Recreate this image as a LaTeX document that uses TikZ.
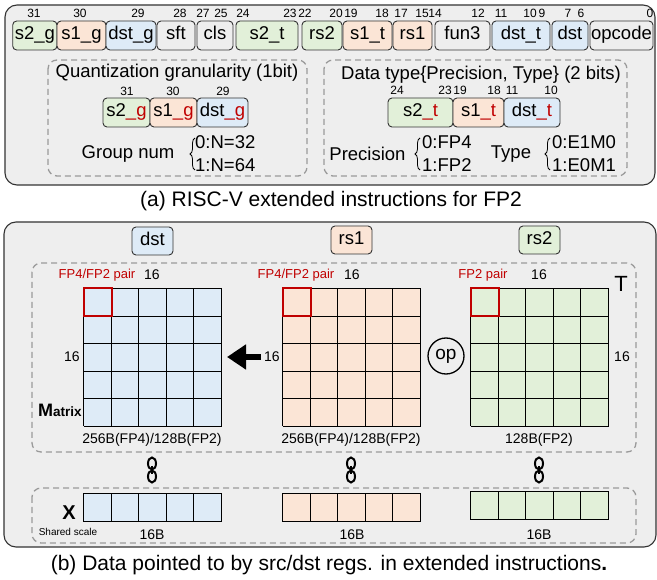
\documentclass[tikz,border=0pt]{standalone}
\usepackage{fontspec}
\setmainfont{Liberation Sans}
\usetikzlibrary{arrows.meta,decorations.pathreplacing}
\definecolor{bluef}{HTML}{DEEBF7}
\definecolor{orf}{HTML}{FBE5D6}
\definecolor{grf}{HTML}{E2F0D9}
\definecolor{panel}{HTML}{EEEEEE}
\definecolor{redt}{HTML}{C00000}
\definecolor{edge}{HTML}{333333}
\definecolor{dashc}{HTML}{9A9A9A}
\newcommand\myfs[1]{\fontsize{#1}{#1}\selectfont}
\tikzset{
  fld/.style={draw=edge, line width=0.9pt, rounded corners=4pt, inner sep=0pt,
    font=\myfs{18.5}, text height=13pt, text depth=4pt},
  bitn/.style={inner sep=0pt, font=\myfs{12}},
  txt/.style={inner sep=0pt, font=\myfs{18.5}},
  small/.style={inner sep=0pt, font=\myfs{14}},
  redlab/.style={inner sep=0pt, font=\myfs{13}, text=redt},
  panelbox/.style={draw=edge, line width=1.1pt, fill=panel, rounded corners=12pt},
  dashbox/.style={draw=dashc, line width=1.3pt, dash pattern=on 6pt off 4pt, rounded corners=9pt},
  gl/.style={draw=black, line width=1.4pt},
  redcell/.style={draw=redt, line width=2pt},
  bracestyle/.style={decorate, decoration={brace, amplitude=5pt}, line width=0.8pt},
  chainlink/.style={draw=black, line width=2pt},
  captext/.style={inner sep=0pt, font=\myfs{21}}
}
\newcommand\fieldbox[7]{%
  \node[fld, fill=#6, minimum width={(#3-#2)*1pt}, minimum height={(#5-#4)*1pt}]
    (#1) at ({(#2+#3)/2},{(#4+#5)/2}) {#7};}
% x0 y0 fill rows ; lines snapped to pixel centres
\newcommand\mgrid[4]{%
  \fill[#3] ({#1+0.5},{#2+0.5}) rectangle ({#1+138.5},{#2+0.5+round(27.5*#4)});
  \foreach \k in {0,...,5} \draw[gl] ({round(#1+\k*27.6)+0.5},{#2+0.5}) -- ({round(#1+\k*27.6)+0.5},{#2+0.5+round(27.5*#4)});
  \foreach \k in {0,...,#4} \draw[gl] ({#1+0.5},{round(#2+\k*27.5)+0.5}) -- ({#1+138.5},{round(#2+\k*27.5)+0.5});
}
\newcommand\pairmark[2]{%
  \draw[redcell] ({#1+0.5},{#2+0.5}) rectangle ({#1+28.5},{#2+28.5});}
\newcommand\chainicon[2]{%
  \draw[chainlink] (#1,{#2+6.5}) ellipse [x radius=4, y radius=6];
  \draw[chainlink] (#1,{#2+19.5}) ellipse [x radius=4, y radius=6];
  \draw[chainlink] (#1,{#2+9}) -- (#1,{#2+17});
}
\begin{document}
\begin{tikzpicture}[x=1pt,y=-1pt]
\useasboundingbox (0,0) rectangle (657,580);
\fill[white] (0,0) rectangle (657,580);

% ---------- panel (a)
\draw[panelbox] (5,5) rectangle (655,185);
\fieldbox{b1}{12.7}{57}{21}{50}{grf}{s2\_g}
\fieldbox{b2}{57}{106}{21}{50}{orf}{s1\_g}
\fieldbox{b3}{106}{156}{21}{50}{bluef}{dst\_g}
\fieldbox{b4}{157}{195}{21}{50}{panel}{sft}
\fieldbox{b5}{197}{233}{21}{50}{panel}{cls}
\fieldbox{b6}{236}{298}{21}{50}{grf}{s2\_t}
\fieldbox{b7}{302}{342}{21}{50}{grf}{rs2}
\fieldbox{b8}{343}{392}{21}{50}{orf}{s1\_t}
\fieldbox{b9}{393}{432}{21}{50}{orf}{rs1}
\fieldbox{b10}{435}{490}{21}{50}{panel}{fun3}
\fieldbox{b11}{492}{550}{21}{50}{bluef}{dst\_t}
\fieldbox{b12}{552}{588}{21}{50}{bluef}{dst}
\fieldbox{b13}{590}{653}{21}{50}{panel}{opcode}
\foreach \t/\x in {31/34,30/80,29/138,28/180,27/203,25/221,24/243,23/290,22/305,
  20/336,19/351,18/382,17/401,15/422,14/435,12/478,11/501,10/530,9/542,7/568,6/581,0/650}
  \node[bitn] (bit\t) at (\x,13) {\t};

% left inner box
\draw[dashbox] (48,60) rectangle (307,176);
\node[txt] (qtitle) at (177,73) {Quantization granularity (1bit)};
\node[bitn] (q31) at (127,91) {31};
\node[bitn] (q30) at (173,91) {30};
\node[bitn] (q29) at (223,91) {29};
\fieldbox{g1}{103}{150}{98}{127}{grf}{s2\textcolor{redt}{\_g}}
\fieldbox{g2}{150}{197}{98}{127}{orf}{s1\textcolor{redt}{\_g}}
\fieldbox{g3}{197}{248}{98}{127}{bluef}{dst\textcolor{redt}{\_g}}
\node[txt] (gnum) at (128,154) {Group num};
\coordinate (br1a) at (195,170);
\coordinate (br1b) at (195,138);
\draw[bracestyle] (br1a) -- (br1b);
\node[txt, anchor=west] (n32) at (195,142) {0:N=32};
\node[txt, anchor=west] (n64) at (195,165) {1:N=64};

% right inner box
\draw[dashbox] (324,60) rectangle (627,176);
\node[txt] (dtitle) at (481,75) {Data type\{Precision, Type\} (2 bits)};
\foreach \t/\x in {24/397,23/445,19/460,18/494,11/512,10/551}
  \node[bitn] (d\t) at (\x,90) {\t};
\fieldbox{t1}{388}{453}{98}{127}{grf}{s2\textcolor{redt}{\_t}}
\fieldbox{t2}{453}{504}{98}{127}{orf}{s1\textcolor{redt}{\_t}}
\fieldbox{t3}{504}{560}{98}{127}{bluef}{dst\textcolor{redt}{\_t}}
\node[txt] (prec) at (367.5,154) {Precision};
\coordinate (br2a) at (420,170);
\coordinate (br2b) at (420,138);
\draw[bracestyle] (br2a) -- (br2b);
\node[txt, anchor=west] (fp4) at (422,142) {0:FP4};
\node[txt, anchor=west] (fp2) at (422,165) {1:FP2};
\node[txt] (typ) at (511,154) {Type};
\coordinate (br3a) at (550,170);
\coordinate (br3b) at (550,138);
\draw[bracestyle] (br3a) -- (br3b);
\node[txt, anchor=west] (e1m0) at (552,142) {0:E1M0};
\node[txt, anchor=west] (e0m1) at (552,165) {1:E0M1};

\node[captext] (capa) at (331,201) {(a) RISC-V extended instructions for FP2};

% ---------- panel (b)
\draw[panelbox] (4,222) rectangle (656,547);
\fieldbox{rdst}{132}{173}{227}{255}{bluef}{dst}
\fieldbox{rrs1}{331}{372}{226}{254}{orf}{rs1}
\fieldbox{rrs2}{519}{560}{226}{254}{grf}{rs2}

\draw[dashbox] (32,263) rectangle (636,452);
\draw[dashbox] (32,488) rectangle (636,543);

\mgrid{83}{288}{bluef}{5}
\mgrid{282}{288}{orf}{5}
\mgrid{470}{288}{grf}{5}
\pairmark{83}{288}
\pairmark{282}{288}
\pairmark{470}{288}

\node[redlab] (pr1) at (97,275) {FP4/FP2 pair};
\node[redlab] (pr2) at (296,275) {FP4/FP2 pair};
\node[redlab] (pr3) at (483,275) {FP2 pair};
\node[small] (w1) at (152,275) {16};
\node[small] (w2) at (352,275) {16};
\node[small] (w3) at (539,275) {16};
\node[inner sep=0pt, font=\myfs{22}] (tlab) at (621,284) {T};
\node[small] (h1) at (72,357) {16};
\node[small] (h2) at (272,357) {16};
\node[small] (h3) at (622,357) {16};

\coordinate (arS) at (261,357);
\coordinate (arE) at (227,357);
\draw[line width=6pt, -{Triangle[length=19pt,width=24pt]}] (arS) -- (arE);
\node[circle, draw=black, line width=1.3pt, minimum size=36pt, inner sep=0pt, font=\myfs{19}] (op) at (446,356) {op};

\node[inner sep=0pt, anchor=base west] (mat) at (38,417) {\bfseries{\myfs{18}M}{\myfs{13.5}atrix}};

\node[small] (s1) at (152,440) {256B(FP4)/128B(FP2)};
\node[small] (s2) at (351,440) {256B(FP4)/128B(FP2)};
\node[small] (s3) at (539,440) {128B(FP2)};

\chainicon{152}{457}
\chainicon{351}{457}
\chainicon{539}{457}

\mgrid{83}{493}{bluef}{1}
\mgrid{282}{493}{orf}{1}
\mgrid{470}{491}{grf}{1}

\node[inner sep=0pt, font=\myfs{20}\bfseries] (xl) at (69,513) {X};
\node[inner sep=0pt, font=\myfs{10}] (ss) at (68,532) {Shared scale};
\node[small] (k1) at (152,535) {16B};
\node[small] (k2) at (352,535) {16B};
\node[small] (k3) at (539,535) {16B};

\node[captext] (capb) at (329,565) {(b) Data pointed to by src/dst regs. in extended instructions{\bfseries .}};
\end{tikzpicture}
\end{document}
